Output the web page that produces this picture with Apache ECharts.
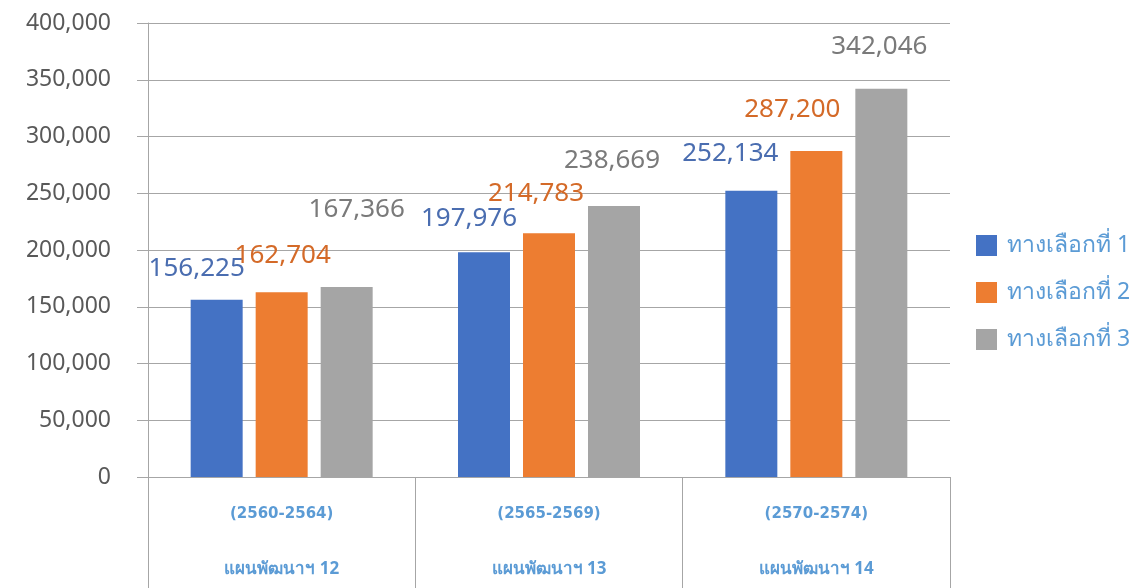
<!DOCTYPE html>
<html>
<head>
<meta charset="utf-8">
<script src="https://cdn.jsdelivr.net/npm/echarts@6/dist/echarts.min.js"></script>
<style>
html,body{margin:0;padding:0;background:#fff;}
#chart{width:1148px;height:588px;}
</style>
</head>
<body>
<div id="chart"></div>
<script>
// ---- data ----
const periods = ['(2560-2564)', '(2565-2569)', '(2570-2574)'];
const plans = ['แผนพัฒนาฯ 12', 'แผนพัฒนาฯ 13', 'แผนพัฒนาฯ 14'];
const seriesNames = ['ทางเลือกที่ 1', 'ทางเลือกที่ 2', 'ทางเลือกที่ 3'];
const option1 = [156225, 197976, 252134];
const option2 = [162704, 214783, 287200];
const option3 = [167366, 238669, 342046];
const yTicks = [0, 50000, 100000, 150000, 200000, 250000, 300000, 350000, 400000];

// ---- layout / style ----
const barColors = ['#4472C4', '#ED7D31', '#A5A5A5'];
const labelColors = ['#4A6DB0', '#D46A28', '#7A7A7A'];
// manual label nudges (as in the source chart) per series, per category
const labelNudges = [
  [[-20, -13], [-15, -16], [-21, -19]],
  [[1, -19], [-13, -22], [-24, -23]],
  [[10, -59], [-2, -28], [-2, -24]]
];
const values = [option1, option2, option3];
const categories = periods.map((p, i) => p + '\n' + plans[i]);

const chart = echarts.init(document.getElementById('chart'), null, {renderer: 'canvas'});
const option = {
  animation: false,
  backgroundColor: '#ffffff',
  grid: {left: 148, right: 198, top: 23, bottom: 111, containLabel: false},
  legend: {
    orient: 'vertical',
    left: 976,
    top: 234,
    padding: 0,
    itemWidth: 21,
    itemHeight: 21,
    itemGap: 24,
    icon: 'rect',
    textStyle: {
      color: '#5B9BD5',
      fontSize: 23,
      fontFamily: 'Noto Sans, sans-serif',
      padding: [0, 0, 0, 5]
    },
    data: seriesNames
  },
  xAxis: {
    type: 'category',
    data: categories,
    axisLine: {show: true, lineStyle: {color: '#a6a6a6', width: 1}},
    axisTick: {show: true, length: 111, interval: 0, alignWithLabel: false, lineStyle: {color: '#a6a6a6', width: 1}},
    axisLabel: {
      interval: 0,
      margin: 10,
      formatter: function (v) {
        const parts = v.split('\n');
        return '{a|' + parts[0] + '}\n{b|' + parts[1] + '}';
      },
      rich: {
        a: {color: '#5B9BD5', fontSize: 15, fontWeight: 'bold', fontFamily: 'DejaVu Sans, sans-serif', lineHeight: 55},
        b: {color: '#5B9BD5', fontSize: 17, fontWeight: 'bold', fontFamily: 'Noto Sans, sans-serif', lineHeight: 55}
      }
    },
    splitLine: {show: false}
  },
  yAxis: {
    type: 'value',
    min: yTicks[0],
    max: yTicks[yTicks.length - 1],
    interval: yTicks[1] - yTicks[0],
    axisLine: {show: true, lineStyle: {color: '#a6a6a6', width: 1}},
    axisTick: {show: true, length: 11, lineStyle: {color: '#a6a6a6', width: 1}},
    axisLabel: {
      margin: 37,
      color: '#595959',
      fontSize: 23,
      fontFamily: 'Noto Sans, sans-serif',
      padding: [0, 0, 5, 0],
      formatter: function (v) { return v.toLocaleString('en-US'); }
    },
    splitLine: {show: true, lineStyle: {color: '#a6a6a6', width: 1}}
  },
  series: seriesNames.map((name, s) => ({
    name: name,
    type: 'bar',
    barWidth: 52,
    barGap: '25%',
    itemStyle: {color: barColors[s]},
    label: {
      show: true,
      position: 'top',
      distance: 5,
      color: labelColors[s],
      fontSize: 26,
      fontFamily: 'Noto Sans, sans-serif',
      formatter: function (p) { return p.value.toLocaleString('en-US'); }
    },
    data: values[s].map((v, i) => ({
      value: v,
      label: {offset: labelNudges[s][i]}
    }))
  }))
};
chart.setOption(option);
</script>
</body>
</html>
